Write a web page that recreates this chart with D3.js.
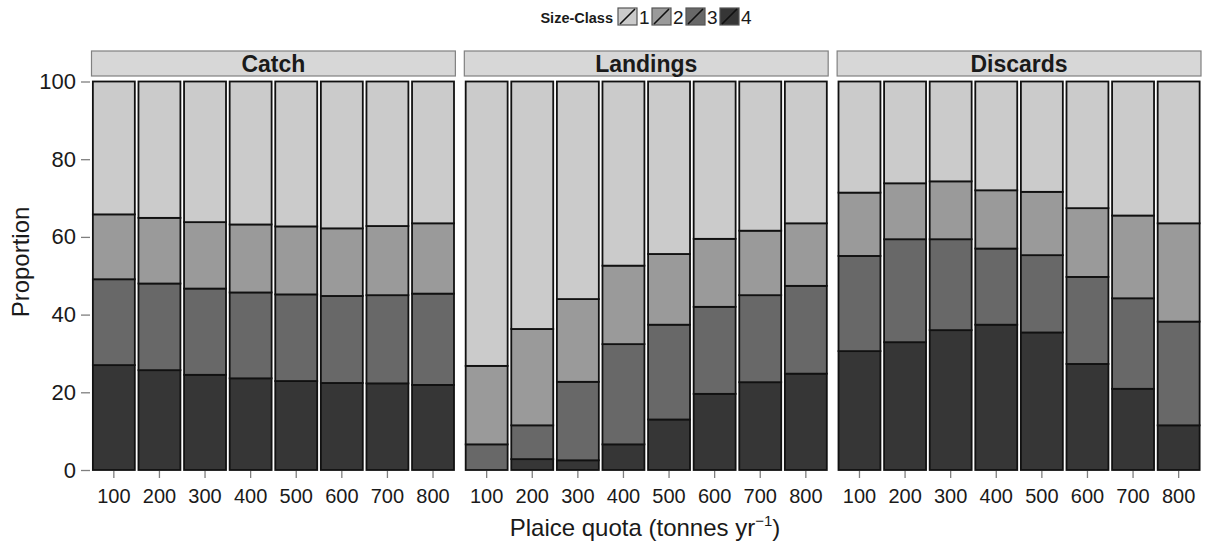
<!DOCTYPE html>
<html>
<head>
<meta charset="utf-8">
<script src="https://cdn.jsdelivr.net/npm/d3@7"></script>
<style>
  body { margin: 0; background: #fff; }
  svg { display: block; font-family: "Liberation Sans", Arial, sans-serif; }
</style>
</head>
<body>
<svg id="chart" width="1206" height="552"></svg>
<script>
// quotas on the x axis, facets, size classes
var quotas = ["100", "200", "300", "400", "500", "600", "700", "800"];
var panels = ["Catch", "Landings", "Discards"];
var sizeClasses = ["1", "2", "3", "4"];
var yTicks = [0, 20, 40, 60, 80, 100];

// proportions (%) per size class
var catchClass1 = [34.2, 35.1, 36.2, 36.8, 37.3, 37.8, 37.2, 36.5];
var catchClass2 = [16.7, 16.9, 17.1, 17.5, 17.5, 17.4, 17.8, 18.1];
var catchClass3 = [22.1, 22.3, 22.2, 22.1, 22.3, 22.4, 22.7, 23.5];
var catchClass4 = [27.0, 25.7, 24.5, 23.6, 22.9, 22.4, 22.3, 21.9];

var landingsClass1 = [73.2, 63.7, 56.0, 47.4, 44.4, 40.5, 38.4, 36.5];
var landingsClass2 = [20.2, 24.8, 21.3, 20.2, 18.2, 17.5, 16.6, 16.1];
var landingsClass3 = [6.6, 8.7, 20.2, 25.8, 24.4, 22.4, 22.4, 22.6];
var landingsClass4 = [0.0, 2.8, 2.5, 6.6, 13.0, 19.6, 22.6, 24.8];

var discardsClass1 = [28.6, 26.2, 25.7, 28.0, 28.4, 32.6, 34.5, 36.5];
var discardsClass2 = [16.3, 14.4, 14.9, 15.0, 16.3, 17.7, 21.3, 25.3];
var discardsClass3 = [24.5, 26.5, 23.4, 19.6, 19.9, 22.4, 23.3, 26.7];
var discardsClass4 = [30.6, 32.9, 36.0, 37.4, 35.4, 27.3, 20.9, 11.5];

var panelData = {
    "Catch": [catchClass1, catchClass2, catchClass3, catchClass4],
    "Landings": [landingsClass1, landingsClass2, landingsClass3, landingsClass4],
    "Discards": [discardsClass1, discardsClass2, discardsClass3, discardsClass4]
};

var fills = { "1": "#cbcbcb", "2": "#9a9a9a", "3": "#686868", "4": "#363636" };
var textCol = "#1a1a1a", tickCol = "#7f7f7f";

var svg = d3.select("#chart");

var y = d3.scaleLinear().domain([0, 100]).range([470, 81.5]);
var panelX = d3.scaleBand().domain(panels).range([91.5, 1201]).paddingInner(0.024);
var x = d3.scaleBand().domain(quotas).range([0, panelX.bandwidth()])
    .paddingInner(0.08).paddingOuter(0.03);

// stack bottom-up: class 4 first
var stack = d3.stack().keys(["4", "3", "2", "1"]);

panels.forEach(function (p) {
    var cols = panelData[p];
    var rows = quotas.map(function (q, i) {
        var r = { quota: q };
        sizeClasses.forEach(function (c, k) { r[c] = cols[k][i]; });
        return r;
    });
    var series = stack(rows);
    var g = svg.append("g").attr("transform", "translate(" + panelX(p) + ",0)");

    // strip
    g.append("rect")
        .attr("x", 0).attr("y", 51)
        .attr("width", panelX.bandwidth()).attr("height", 25)
        .attr("fill", "#d7d7d7").attr("stroke", "#808080").attr("stroke-width", 1.2);
    g.append("text")
        .attr("x", panelX.bandwidth() / 2).attr("y", 72)
        .attr("text-anchor", "middle")
        .attr("font-size", 23).attr("font-weight", "bold")
        .attr("fill", textCol)
        .text(p);

    g.selectAll("g.layer")
        .data(series)
      .enter().append("g")
        .attr("class", "layer")
        .attr("fill", function (s) { return fills[s.key]; })
      .selectAll("rect")
        .data(function (s) { return s; })
      .enter().append("rect")
        .attr("x", function (d) { return x(d.data.quota); })
        .attr("y", function (d) { return y(d[1]); })
        .attr("width", x.bandwidth())
        .attr("height", function (d) { return y(d[0]) - y(d[1]); })
        .attr("stroke", "#111")
        .attr("stroke-width", 1.8);

    var xa = g.append("g")
        .attr("transform", "translate(0,471)")
        .call(d3.axisBottom(x).tickSize(7).tickPadding(11));
    xa.select(".domain").remove();
    xa.selectAll("line").attr("stroke", tickCol).attr("stroke-width", 1.3);
    xa.selectAll("text").attr("font-size", 20).attr("fill", textCol)
        .style("font-family", "'Liberation Sans', Arial, sans-serif");
});

// y axis
var ya = svg.append("g")
    .attr("transform", "translate(90,0)")
    .call(d3.axisLeft(y).tickValues(yTicks).tickSize(9).tickPadding(5));
ya.select(".domain").remove();
ya.selectAll("line").attr("stroke", tickCol).attr("stroke-width", 1.3);
ya.selectAll("text").attr("font-size", 22).attr("fill", textCol)
    .style("font-family", "'Liberation Sans', Arial, sans-serif");

// axis titles
svg.append("text")
    .attr("transform", "translate(29,262) rotate(-90)")
    .attr("text-anchor", "middle")
    .attr("font-size", 24).attr("fill", textCol)
    .text("Proportion");

var xt = svg.append("text")
    .attr("x", 645).attr("y", 536)
    .attr("text-anchor", "middle")
    .attr("font-size", 24).attr("fill", textCol);
xt.append("tspan").text("Plaice quota (tonnes yr");
xt.append("tspan").attr("dy", -10).attr("font-size", 15).text("\u22121");
xt.append("tspan").attr("dy", 10).text(")");

// legend
var lg = svg.append("g");
lg.append("text")
    .attr("x", 613).attr("y", 23)
    .attr("text-anchor", "end")
    .attr("font-size", 14.5).attr("font-weight", "bold").attr("fill", textCol)
    .text("Size-Class");
var key = lg.selectAll("g.key")
    .data(sizeClasses)
  .enter().append("g")
    .attr("class", "key")
    .attr("transform", function (d, i) { return "translate(" + (618 + i * 34) + ",8)"; });
key.append("rect")
    .attr("width", 19).attr("height", 17)
    .attr("fill", function (d) { return fills[d]; })
    .attr("stroke", "#555").attr("stroke-width", 1.2);
key.append("line")
    .attr("x1", 2).attr("y1", 16).attr("x2", 17).attr("y2", 1)
    .attr("stroke", "#111").attr("stroke-width", 1.6);
key.append("text")
    .attr("x", 21).attr("y", 16)
    .attr("font-size", 19).attr("fill", textCol)
    .text(function (d) { return d; });
</script>
</body>
</html>
